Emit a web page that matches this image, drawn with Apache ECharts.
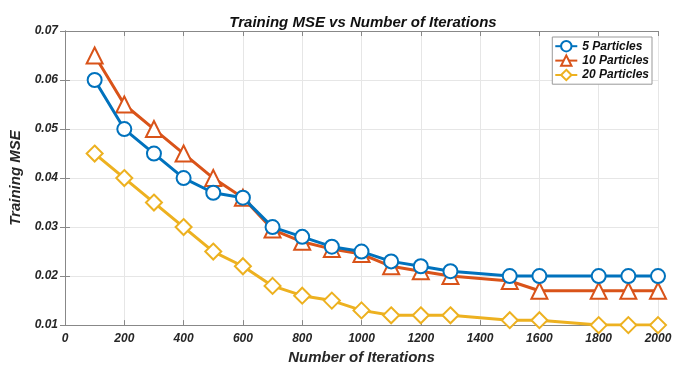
<!DOCTYPE html>
<html><head><meta charset="utf-8">
<script src="https://cdn.jsdelivr.net/npm/echarts@6/dist/echarts.min.js"></script>
<style>html,body{margin:0;padding:0;background:#fff}#c{width:676px;height:370px}</style>
</head><body><div id="c"></div>
<script>
const iterations = [100,200,300,400,500,600,700,800,900,1000,1100,1200,1300,1500,1600,1800,1900,2000];
const p5  = [0.060,0.050,0.045,0.040,0.037,0.036,0.030,0.028,0.026,0.025,0.023,0.022,0.021,0.020,0.020,0.020,0.020,0.020];
const p10 = [0.065,0.055,0.050,0.045,0.040,0.036,0.0295,0.027,0.0255,0.0245,0.022,0.021,0.020,0.019,0.017,0.017,0.017,0.017];
const p20 = [0.045,0.040,0.035,0.030,0.025,0.022,0.018,0.016,0.015,0.013,0.012,0.012,0.012,0.011,0.011,0.010,0.010,0.010];
const seriesNames = ['5 Particles','10 Particles','20 Particles'];
const colors = ['#0072BD','#D95319','#EDB120'];
const symbols = ['emptyCircle','emptyTriangle','emptyDiamond'];
const sizes = [14,16,16];
const font = {fontFamily:'Liberation Sans', fontStyle:'italic', fontWeight:'bold', color:'#262626'};
const chart = echarts.init(document.getElementById('c'));
const mk = (i, vals) => ({
  name: seriesNames[i], type:'line', data: iterations.map((x,k)=>[x, vals[k]]),
  symbol: symbols[i], symbolSize: sizes[i], color: colors[i],
  lineStyle:{width:3, color: colors[i]},
  itemStyle:{color: colors[i], borderColor: colors[i], borderWidth:3},
  z: 3 - i
});
const axisLine = {show:true, lineStyle:{color:'#888', width:1}};
chart.setOption({
  animation:false,
  title:{text:'Training MSE vs Number of Iterations', left:358, top:10, textAlign:'center',
    textStyle:Object.assign({fontSize:15}, font, {color:'#111'})},
  legend:{orient:'vertical', right:24, top:37, itemGap:2, itemWidth:22, itemHeight:13,
    backgroundColor:'#fff', borderColor:'#999', borderWidth:1, padding:[3,3,3,2],
    textStyle:Object.assign({fontSize:12}, font, {color:'#111'}), data: seriesNames},
  grid:{left:65, right:18, top:31, bottom:40},
  xAxis:[{type:'value', min:0, max:2000, interval:200,
    name:'Number of Iterations', nameLocation:'middle', nameGap:24,
    nameTextStyle:Object.assign({fontSize:15}, font),
    axisLine, axisTick:{inside:true, length:5, lineStyle:{color:'#888'}},
    axisLabel:Object.assign({fontSize:12, margin:8, formatter:v=>String(v)}, font),
    splitLine:{show:true, lineStyle:{color:'#e6e6e6'}}},
    {type:'value', position:'top', min:0, max:2000, interval:200, axisLine,
     axisTick:{inside:true, length:5, lineStyle:{color:'#888'}}, axisLabel:{show:false}, splitLine:{show:false}}],
  yAxis:[{type:'value', min:0.01, max:0.07, interval:0.01,
    name:'Training MSE', nameLocation:'middle', nameGap:36, nameRotate:90,
    nameTextStyle:Object.assign({fontSize:15}, font),
    axisLine, axisTick:{inside:true, length:5, lineStyle:{color:'#888'}},
    axisLabel:Object.assign({fontSize:12, margin:7, formatter:v=>v.toFixed(2)}, font),
    splitLine:{show:true, lineStyle:{color:'#e6e6e6'}}},
    {type:'value', position:'right', min:0.01, max:0.07, interval:0.01, axisLine,
     axisTick:{inside:true, length:5, lineStyle:{color:'#888'}}, axisLabel:{show:false}, splitLine:{show:false}}],
  series:[mk(0,p5), mk(1,p10), mk(2,p20)]
});
</script></body></html>
